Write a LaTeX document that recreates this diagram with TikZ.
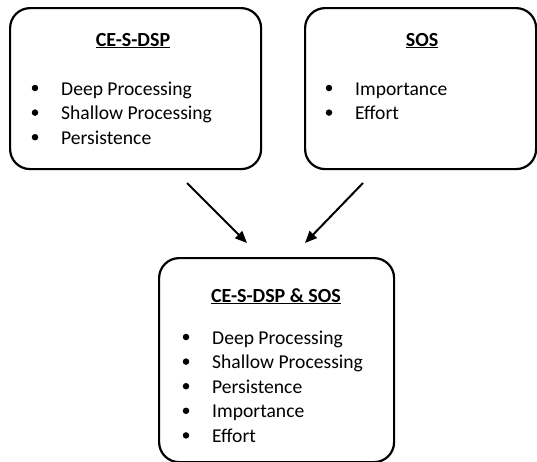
\documentclass[tikz,border=0pt]{standalone}
\usepackage{fontspec}
\setmainfont{Carlito}
\usetikzlibrary{arrows.meta}
\begin{document}
\begin{tikzpicture}[x=1pt,y=-1pt,
  panel/.style={draw=black,line width=2.2pt,rounded corners=20pt,anchor=north west,inner sep=0pt},
  heading/.style={font=\fontsize{20}{24}\selectfont\bfseries,anchor=base},
  item/.style={font=\fontsize{19.6}{24}\selectfont,anchor=base west,inner sep=0pt},
  dot/.style={circle,fill=black,inner sep=0pt,minimum size=6.5pt},
  arr/.style={line width=2pt,-{Triangle[length=12pt,width=10pt]}}]
\useasboundingbox (0,0) rectangle (537,461);

% upper left panel
\node[panel,minimum width=251pt,minimum height=161pt] (b1) at (9,7) {};
\node[heading] (t1) at (133,46) {\underline{CE-S-DSP}};
\foreach \txt [count=\i] in {Deep Processing,Shallow Processing,Persistence}{
  \node[dot] (d1\i) at (35,{88+24.6*(\i-1)}) {};
  \node[item] (i1\i) at (61,{95+24.6*(\i-1)}) {\txt};
}

% upper right panel
\node[panel,minimum width=231pt,minimum height=161pt] (b2) at (304,7) {};
\node[heading] (t2) at (422,46) {\underline{SOS}};
\foreach \txt [count=\i] in {Importance,Effort}{
  \node[dot] (d2\i) at (329,{88+24.6*(\i-1)}) {};
  \node[item] (i2\i) at (355,{95+24.6*(\i-1)}) {\txt};
}

% combined panel
\node[panel,minimum width=235pt,minimum height=204pt] (b3) at (158,257) {};
\node[heading] (t3) at (276,302) {\underline{CE-S-DSP \& SOS}};
\foreach \txt [count=\i] in {Deep Processing,Shallow Processing,Persistence,Importance,Effort}{
  \node[dot] (d3\i) at (186,{337+24.6*(\i-1)}) {};
  \node[item] (i3\i) at (212,{344+24.6*(\i-1)}) {\txt};
}

% connectors
\coordinate (s1) at (187,183);
\coordinate (e1) at (247,243);
\coordinate (s2) at (363,183);
\coordinate (e2) at (305,243);
\draw[arr] (s1) -- (e1);
\draw[arr] (s2) -- (e2);
\end{tikzpicture}
\end{document}
